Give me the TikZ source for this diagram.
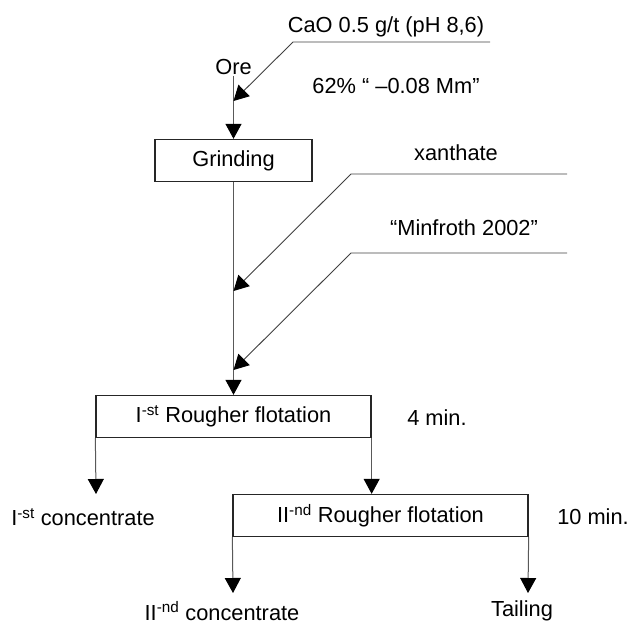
\documentclass[tikz,border=0pt]{standalone}
\usepackage{fontspec}
\setmainfont{Liberation Sans}
\usepackage{tikz}
\usetikzlibrary{arrows.meta}
\tikzset{
  unit/.style={draw=black!85, line width=1.3pt, inner sep=0pt, minimum height=42pt,
    font=\fontsize{21.8}{26}\selectfont},
  lbl/.style={inner sep=1pt, font=\fontsize{21.8}{26}\selectfont},
  flow/.style={draw=black!65, line width=1pt, -{Triangle[length=15pt,width=16pt,color=black]}},
  feed/.style={draw=black!75, line width=0.9pt, -{Triangle[length=15pt,width=16pt,color=black]}},
}

\begin{document}
\begin{tikzpicture}[x=1pt,y=-1pt]
    \useasboundingbox (0,0) rectangle (635,626);

    % process units
    \node [unit, minimum width=157pt] (grind) at (233.5,160.5) {Grinding};
    \node [unit, minimum width=275pt] (rough1) at (233.5,416.5) {I\textsuperscript{-st} Rougher flotation};
    \node [unit, minimum width=295pt] (rough2) at (380.5,515.5) {II\textsuperscript{-nd} Rougher flotation};

    % texts
    \node [lbl] (ore) at (233.5,67) {Ore};
    \node [lbl] (cao) at (386,27) {CaO 0.5 g/t (pH 8,6)};
    \node [lbl] (fines) at (396,86) {62\% “ –0.08 Mm”};
    \node [lbl] (xan) at (456,153) {xanthate};
    \node [lbl] (minf) at (464,228) {“Minfroth 2002”};
    \node [lbl] (time1) at (437,418) {4 min.};
    \node [lbl] (time2) at (593,517) {10 min.};
    \node [lbl] (conc1) at (83,517) {I\textsuperscript{-st} concentrate};
    \node [lbl] (conc2) at (222,611) {II\textsuperscript{-nd} concentrate};
    \node [lbl] (tail) at (522,611) {Tailing};

    % reagent feed points
    \coordinate (caoR) at (490,42);
    \coordinate (caoL) at (293,42);
    \coordinate (caoIn) at (233.5,101);
    \coordinate (xanR) at (567,174);
    \coordinate (xanL) at (351,174);
    \coordinate (xanIn) at (233.5,291);
    \coordinate (minfR) at (567,253);
    \coordinate (minfL) at (351,253);
    \coordinate (minfIn) at (233.5,370);

    % product ends
    \coordinate (out1) at (96,494);
    \coordinate (out2) at (233,593);
    \coordinate (out3) at (528,593);

    \draw [flow] (ore) -- (grind);
    \draw [flow] (grind) -- (rough1);
    \draw [flow] (rough1.south west) -- (out1);
    \draw [flow] (rough1.south east) -- (rough1.south east |- rough2.north);
    \draw [flow] (rough2.south west) -- (out2);
    \draw [flow] (rough2.south east) -- (out3);

    \draw [feed] (caoR) -- (caoL) -- (caoIn);
    \draw [feed] (xanR) -- (xanL) -- (xanIn);
    \draw [feed] (minfR) -- (minfL) -- (minfIn);

  \end{tikzpicture}
\end{document}
